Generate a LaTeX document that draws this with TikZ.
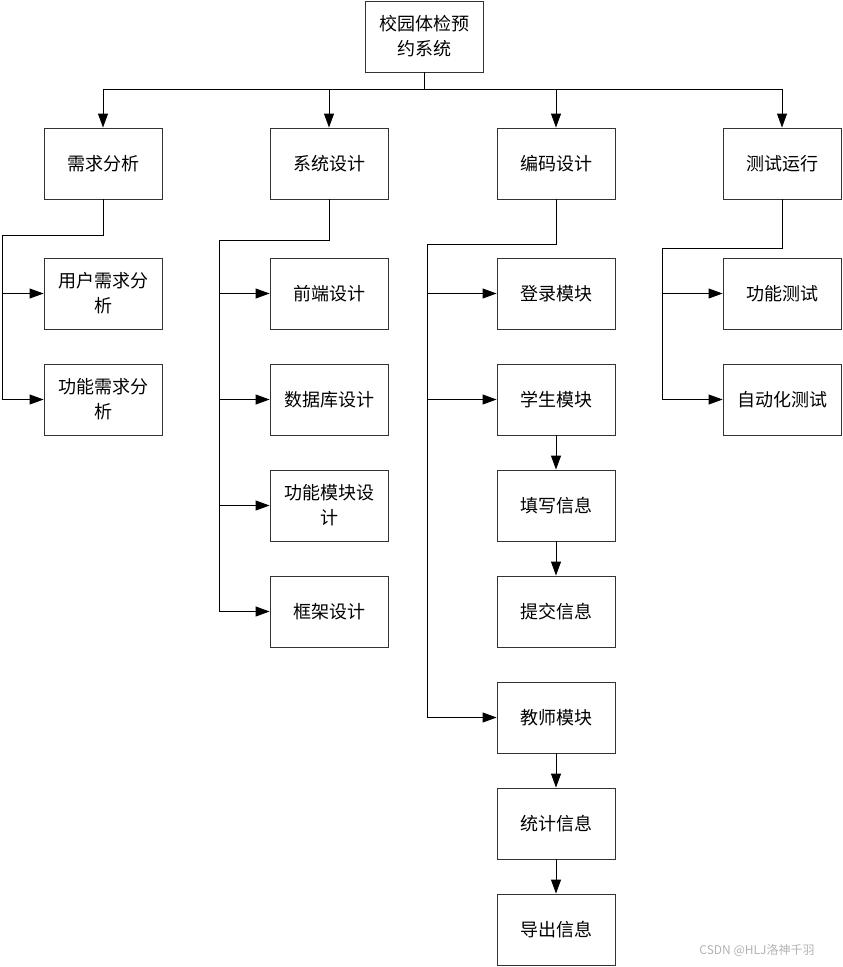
\documentclass[tikz,border=0pt]{standalone}
\usepackage{fontspec}
\setmainfont{Noto Sans CJK SC}
\usetikzlibrary{arrows.meta}
\begin{document}
\begin{tikzpicture}[x=1pt,y=-1pt,line width=0.9pt,
	box/.style={draw=black!80,minimum width=118pt,minimum height=71pt,
		align=center,font=\fontsize{18}{25}\selectfont,inner sep=0pt},
	arr/.style={-{Triangle[length=14pt,width=10pt]}}]
\useasboundingbox (0,0) rectangle (843,967);
% root and first level
\node[box](root) at (424,36.5){校园体检预\\约系统};
\node[box](xq) at (103,163.5){需求分析};
\node[box](xt) at (329,163.5){系统设计};
\node[box](bm) at (556,163.5){编码设计};
\node[box](cs) at (782,163.5){测试运行};
\coordinate (top) at (424,89);
\draw (root.south) -- (top);
\draw (xq.north |- top) -- (cs.north |- top);
\draw[arr] (xq.north |- top) -- (xq.north);
\draw[arr] (xt.north |- top) -- (xt.north);
\draw[arr] (bm.north |- top) -- (bm.north);
\draw[arr] (cs.north |- top) -- (cs.north);
% 需求分析
\node[box](yhxq) at (103,293.5){用户需求分\\析};
\node[box](gnxq) at (103,399.5){功能需求分\\析};
\coordinate (b1) at (2,235);
\draw (xq.south) |- (b1) -- (b1 |- gnxq.west);
\draw[arr] (b1 |- yhxq.west) -- (yhxq.west);
\draw[arr] (b1 |- gnxq.west) -- (gnxq.west);
% 系统设计
\node[box](qd) at (329,293.5){前端设计};
\node[box](sjk) at (329,399.5){数据库设计};
\node[box](gnmk) at (329,505.5){功能模块设\\计};
\node[box](kj) at (329,611.5){框架设计};
\coordinate (b2) at (219,240);
\draw (xt.south) |- (b2) -- (b2 |- kj.west);
\draw[arr] (b2 |- qd.west) -- (qd.west);
\draw[arr] (b2 |- sjk.west) -- (sjk.west);
\draw[arr] (b2 |- gnmk.west) -- (gnmk.west);
\draw[arr] (b2 |- kj.west) -- (kj.west);
% 编码设计
\node[box](dl) at (556,293.5){登录模块};
\node[box](xs) at (556,399.5){学生模块};
\node[box](tx) at (556,505.5){填写信息};
\node[box](tj) at (556,611.5){提交信息};
\node[box](js) at (556,717.5){教师模块};
\node[box](tjxx) at (556,823.5){统计信息};
\node[box](dc) at (556,929.5){导出信息};
\coordinate (b3) at (427,244);
\draw (bm.south) |- (b3) -- (b3 |- js.west);
\draw[arr] (b3 |- dl.west) -- (dl.west);
\draw[arr] (b3 |- xs.west) -- (xs.west);
\draw[arr] (b3 |- js.west) -- (js.west);
\draw[arr] (xs) -- (tx);
\draw[arr] (tx) -- (tj);
\draw[arr] (js) -- (tjxx);
\draw[arr] (tjxx) -- (dc);
% 测试运行
\node[box](gncs) at (782,293.5){功能测试};
\node[box](zdh) at (782,399.5){自动化测试};
\coordinate (b4) at (662,248);
\draw (cs.south) |- (b4) -- (b4 |- zdh.west);
\draw[arr] (b4 |- gncs.west) -- (gncs.west);
\draw[arr] (b4 |- zdh.west) -- (zdh.west);
% watermark
\node[text=black!30,font=\fontsize{12}{14}\selectfont](wm) at (757,950){CSDN @HLJ洛神千羽};
\end{tikzpicture}
\end{document}
